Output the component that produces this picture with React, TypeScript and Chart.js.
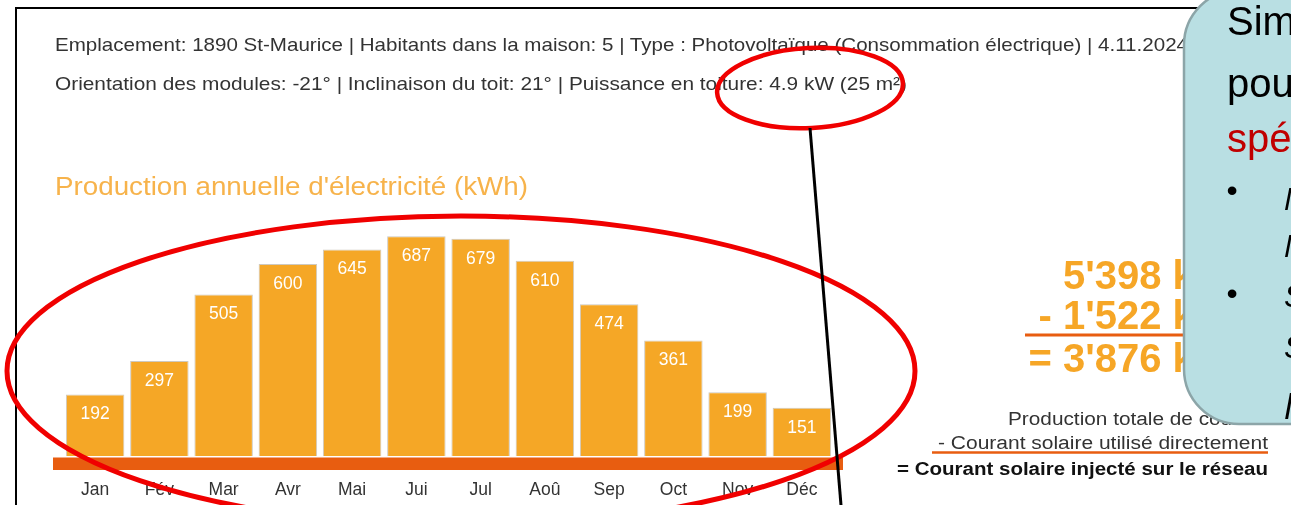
import React, { useEffect, useRef } from "react";
import { Chart, registerables } from "chart.js";

Chart.register(...registerables);

const months = ["Jan", "Fév", "Mar", "Avr", "Mai", "Jui", "Jul", "Aoû", "Sep", "Oct", "Nov", "Déc"];
const production = [192, 297, 505, 600, 645, 687, 679, 610, 474, 361, 199, 151];
const yMax = 700;

const headerLine1 =
  "Emplacement: 1890 St-Maurice | Habitants dans la maison: 5 | Type : Photovoltaïque (Consommation électrique) | 4.11.2024";
const headerLine2 =
  "Orientation des modules: -21° | Inclinaison du toit: 21° | Puissance en toiture: 4.9 kW (25 m²)";
const chartTitle = "Production annuelle d'électricité (kWh)";
const totals = ["5'398 kWh", "- 1'522 kWh", "= 3'876 kWh"];
const totalsLegend = [
  "Production totale de courant",
  "- Courant solaire utilisé directement",
  "= Courant solaire injecté sur le réseau",
];
const calloutHead = ["Sim", "pou", "spé"];
const calloutBullets = ["M", "M", "S", "S", "M"];

const FONT = "'Liberation Sans', Arial, Helvetica, sans-serif";
const BAR = "#F5A726";
const BAND = "#E85D10";

const bandPlugin = {
  id: "band",
  afterDatasetsDraw(chart: any) {
    const { ctx, chartArea } = chart;
    const y0 = chart.scales.y.getPixelForValue(0);
    ctx.save();
    ctx.fillStyle = BAND;
    ctx.fillRect(chartArea.left - 10, y0 + 1.5, chartArea.right - chartArea.left + 19, 12.5);
    ctx.restore();
  },
};

const valueLabelPlugin = {
  id: "valueLabels",
  afterDatasetsDraw(chart: any) {
    const { ctx } = chart;
    const meta = chart.getDatasetMeta(0);
    ctx.save();
    ctx.fillStyle = "#ffffff";
    ctx.font = `17.5px ${FONT}`;
    ctx.textAlign = "center";
    ctx.textBaseline = "middle";
    meta.data.forEach((bar: any, i: number) => {
      ctx.fillText(String(production[i]), bar.x, bar.y + 20);
    });
    ctx.restore();
  },
};

export default function App() {
  const canvasRef = useRef<HTMLCanvasElement | null>(null);

  useEffect(() => {
    document.body.style.margin = "0";
    const canvas = canvasRef.current!;
    const chart = new Chart(canvas, {
      type: "bar",
      data: {
        labels: months,
        datasets: [
          {
            data: production,
            backgroundColor: BAR,
            borderColor: "rgba(200,195,185,0.9)",
            borderWidth: 1,
            borderSkipped: "bottom",
            barPercentage: 0.91,
            categoryPercentage: 1,
          },
        ],
      },
      options: {
        animation: false,
        responsive: false,
        devicePixelRatio: 1,
        layout: { padding: { left: 63, right: 457, top: 232, bottom: 0 } },
        plugins: {
          legend: { display: false },
          tooltip: { enabled: false },
          title: { display: false },
        },
        scales: {
          x: {
            grid: { display: false, drawTicks: false },
            border: { display: false },
            ticks: {
              color: "#333333",
              font: { family: FONT, size: 17.5, lineHeight: 3.9 },
              padding: 0,
              maxRotation: 0,
              autoSkip: false,
            },
            afterFit: (s: any) => {
              s.height = 49;
            },
          },
          y: { display: false, min: 0, max: yMax },
        },
      },
      plugins: [bandPlugin, valueLabelPlugin],
    });
    return () => chart.destroy();
  }, []);

  return (
    <div
      style={{
        position: "fixed",
        left: 0,
        top: 0,
        width: 1291,
        height: 505,
        background: "#ffffff",
        overflow: "hidden",
      }}
    >
      <canvas ref={canvasRef} width={1291} height={505} style={{ position: "absolute", left: 0, top: 0 }} />
      <svg
        width={1291}
        height={505}
        style={{ position: "absolute", left: 0, top: 0, pointerEvents: "none" }}
      >
        {/* frame */}
        <line x1={15} y1={8} x2={1291} y2={8} stroke="#000" strokeWidth={2} />
        <line x1={16} y1={7} x2={16} y2={505} stroke="#000" strokeWidth={2} />

        {/* header */}
        <text x={55} y={51} fontFamily={FONT} fontSize={18.5} fill="#333" textLength={1133} lengthAdjust="spacingAndGlyphs">
          {headerLine1}
        </text>
        <text x={55} y={90} fontFamily={FONT} fontSize={18.5} fill="#333" textLength={852} lengthAdjust="spacingAndGlyphs">
          {headerLine2}
        </text>

        {/* chart title */}
        <text x={55} y={195} fontFamily={FONT} fontSize={25} fill="#F7B34B" textLength={473} lengthAdjust="spacingAndGlyphs">
          {chartTitle}
        </text>

        {/* totals */}
        {totals.map((t, i) => (
          <text
            key={t}
            x={1257}
            y={[289, 329, 372][i]}
            fontFamily={FONT}
            fontSize={40}
            fontWeight="bold"
            fill="#F6A626"
            textAnchor="end"
          >
            {t}
          </text>
        ))}
        <line x1={1025} y1={335} x2={1200} y2={335} stroke={BAND} strokeWidth={3} />

        <text x={1008} y={425} fontFamily={FONT} fontSize={18} fill="#333" textLength={260} lengthAdjust="spacingAndGlyphs">
          {totalsLegend[0]}
        </text>
        <text x={938} y={449} fontFamily={FONT} fontSize={18} fill="#333" textLength={330} lengthAdjust="spacingAndGlyphs">
          {totalsLegend[1]}
        </text>
        <line x1={932} y1={452.5} x2={1268} y2={452.5} stroke={BAND} strokeWidth={2.5} />
        <text
          x={897}
          y={475}
          fontFamily={FONT}
          fontSize={18}
          fontWeight="bold"
          fill="#111"
          textLength={371}
          lengthAdjust="spacingAndGlyphs"
        >
          {totalsLegend[2]}
        </text>

        {/* callout */}
        <rect x={1184} y={-10} width={200} height={434} rx={55} ry={55} fill="#B9DFE3" stroke="#8CA5A8" strokeWidth={2.5} />
        {calloutHead.map((t, i) => (
          <text
            key={t}
            x={1227}
            y={[35, 97, 152][i]}
            fontFamily={FONT}
            fontSize={40}
            fill={i === 2 ? "#C00000" : "#000"}
          >
            {t}
          </text>
        ))}
        <text x={1232} y={190} fontFamily={FONT} fontSize={32} textAnchor="middle" dominantBaseline="central" fill="#000">
          •
        </text>
        <text x={1232} y={293} fontFamily={FONT} fontSize={32} textAnchor="middle" dominantBaseline="central" fill="#000">
          •
        </text>
        {calloutBullets.map((t, i) => (
          <text
            key={i}
            x={1284}
            y={[210, 257, 307, 358, 419][i]}
            fontFamily={FONT}
            fontSize={i === 4 ? 36 : 32}
            fontStyle="italic"
            fill="#000"
          >
            {t}
          </text>
        ))}

        {/* annotations */}
        <ellipse cx={461} cy={371} rx={454} ry={155} fill="none" stroke="#F00000" strokeWidth={5} />
        <ellipse
          cx={810}
          cy={88}
          rx={93}
          ry={40}
          fill="none"
          stroke="#F00000"
          strokeWidth={4.5}
          transform="rotate(-3 810 88)"
        />
        <line x1={810} y1={128} x2={841} y2={505} stroke="#000" strokeWidth={3} />
      </svg>
    </div>
  );
}
